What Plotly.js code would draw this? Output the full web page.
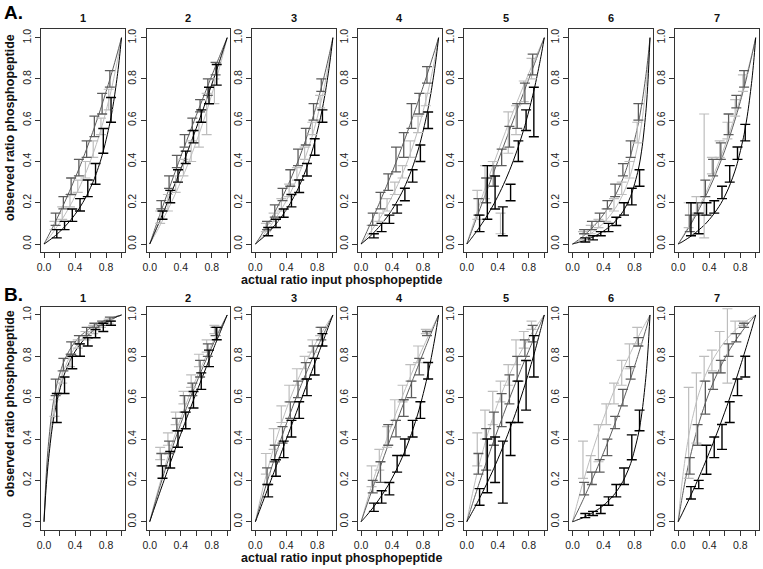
<!DOCTYPE html>
<html>
<head>
<meta charset="utf-8">
<script src="https://cdn.plot.ly/plotly-3.0.1.min.js"></script>
<style>
  html, body { margin: 0; padding: 0; background: #fff; }
  #chart { width: 763px; height: 569px; }
</style>
</head>
<body>
<div id="chart"></div>
<script>
// panel labels
var rowNames = ['A.', 'B.'];
var panelNames = ['1', '2', '3', '4', '5', '6', '7'];

// x grid for the fitted curves, x positions of the replicate error bars
var curveX = [0, 0.025, 0.05, 0.1, 0.15, 0.25, 0.35, 0.45, 0.55, 0.65, 0.75, 0.85, 0.9, 0.95, 0.975, 1];
var barX = [0.15, 0.25, 0.35, 0.45, 0.55, 0.65, 0.75, 0.85];

// fitted curves, one row per panel (A1..A7, B1..B7)
var blackCurve = [
    [0, .006, .013, .027, .042, .077, .119, .170, .234, .317, .429, .586, .692, .826, .907, 1],
    [0, .021, .043, .086, .130, .221, .314, .410, .510, .612, .718, .828, .884, .942, .971, 1],
    [0, .008, .016, .032, .050, .091, .139, .197, .268, .358, .474, .630, .730, .851, .921, 1],
    [0, .008, .016, .032, .050, .091, .139, .197, .268, .358, .474, .630, .730, .851, .921, 1],
    [0, .011, .023, .048, .074, .130, .195, .269, .355, .455, .574, .718, .802, .895, .946, 1],
    [0, .003, .005, .011, .017, .032, .051, .076, .109, .157, .231, .362, .474, .655, .796, 1],
    [0, .005, .010, .022, .034, .063, .097, .141, .196, .271, .375, .531, .643, .792, .886, 1],
    [0, .152, .269, .438, .553, .700, .790, .851, .895, .929, .955, .975, .984, .993, .996, 1],
    [0, .027, .055, .109, .163, .268, .372, .474, .574, .671, .767, .862, .908, .954, .977, 1],
    [0, .025, .05, .1, .15, .25, .35, .45, .55, .65, .75, .85, .9, .95, .975, 1],
    [0, .010, .021, .043, .066, .118, .177, .247, .328, .426, .545, .694, .783, .884, .940, 1],
    [0, .016, .033, .067, .103, .178, .259, .347, .443, .547, .661, .787, .854, .925, .962, 1],
    [0, .003, .007, .014, .022, .042, .065, .096, .137, .195, .281, .424, .539, .712, .835, 1],
    [0, .019, .038, .077, .117, .200, .288, .380, .478, .582, .692, .810, .871, .934, .967, 1]
];
var darkCurve = [
    [0, .018, .036, .072, .110, .189, .274, .364, .461, .565, .677, .799, .863, .930, .965, 1],
    [0, .027, .055, .109, .163, .268, .372, .474, .574, .671, .767, .862, .908, .954, .977, 1],
    [0, .014, .028, .058, .088, .155, .229, .310, .402, .505, .623, .757, .832, .913, .955, 1],
    [0, .020, .040, .082, .124, .211, .301, .396, .494, .598, .706, .819, .878, .938, .969, 1],
    [0, .025, .05, .1, .15, .25, .35, .45, .55, .65, .75, .85, .9, .95, .975, 1],
    [0, .006, .013, .027, .042, .077, .119, .170, .234, .317, .429, .586, .692, .826, .907, 1],
    [0, .014, .028, .058, .088, .155, .229, .310, .402, .505, .623, .757, .832, .913, .955, 1],
    [0, .204, .345, .526, .638, .769, .843, .891, .924, .949, .968, .983, .989, .995, .997, 1],
    [0, .033, .066, .130, .192, .310, .421, .525, .623, .715, .802, .884, .924, .962, .981, 1],
    [0, .033, .066, .130, .192, .310, .421, .525, .623, .715, .802, .884, .924, .962, .981, 1],
    [0, .027, .055, .109, .163, .268, .372, .474, .574, .671, .767, .862, .908, .954, .977, 1],
    [0, .030, .059, .118, .175, .286, .393, .495, .595, .690, .783, .872, .915, .958, .979, 1],
    [0, .019, .038, .077, .117, .200, .288, .380, .478, .582, .692, .810, .871, .934, .967, 1],
    [0, .060, .116, .217, .306, .455, .574, .672, .753, .823, .882, .934, .957, .979, .990, 1]
];
var lightCurve = [
    [0, .011, .023, .048, .074, .130, .195, .269, .355, .455, .574, .718, .802, .895, .946, 1],
    [0, .016, .033, .067, .103, .178, .259, .347, .443, .547, .661, .787, .854, .925, .962, 1],
    [0, .010, .021, .043, .066, .118, .177, .247, .328, .426, .545, .694, .783, .884, .940, 1],
    [0, .011, .023, .048, .074, .130, .195, .269, .355, .455, .574, .718, .802, .895, .946, 1],
    [0, .030, .059, .118, .175, .286, .393, .495, .595, .690, .783, .872, .915, .958, .979, 1],
    [0, .004, .009, .019, .029, .054, .084, .122, .172, .240, .338, .491, .605, .764, .869, 1],
    [0, .015, .031, .063, .096, .167, .244, .329, .423, .527, .643, .773, .844, .919, .959, 1],
    [0, .170, .296, .471, .585, .727, .812, .868, .907, .937, .960, .978, .986, .994, .997, 1],
    [0, .037, .073, .143, .209, .333, .447, .551, .647, .736, .818, .895, .931, .966, .983, 1],
    [0, .044, .087, .167, .241, .375, .492, .596, .688, .770, .844, .911, .942, .972, .986, 1],
    [0, .033, .066, .130, .192, .310, .421, .525, .623, .715, .802, .884, .924, .962, .981, 1],
    [0, .049, .095, .182, .261, .400, .519, .621, .710, .788, .857, .919, .947, .974, .987, 1],
    [0, .037, .073, .143, .209, .333, .447, .551, .647, .736, .818, .895, .931, .966, .983, 1],
    [0, .103, .192, .333, .443, .600, .708, .786, .846, .893, .931, .962, .976, .988, .994, 1]
];

// error bars: centre and half-length, one row per panel
var blackMid = [
    [.05, .09, .14, .19, .27, .34, .50, .65], [.14, .23, .33, .42, .52, .62, .72, .82],
    [.06, .10, .15, .21, .28, .36, .47, .62], [.04, .08, .12, .17, .24, .33, .44, .60],
    [.10, .25, .25, .11, .25, .45, .60, .64], [.02, .03, .05, .08, .11, .17, .23, .32],
    [.12, .10, .17, .18, .25, .34, .44, .54], [.55, .66, .77, .83, .87, .91, .94, .96],
    [.24, .30, .40, .49, .59, .68, .79, .91], [.15, .26, .35, .45, .54, .65, .75, .88],
    [.07, .12, .16, .28, .36, .45, .54, .73], [.12, .27, .30, .24, .40, .58, .66, .80],
    [.03, .04, .06, .10, .15, .22, .36, .49], [.14, .18, .30, .36, .41, .53, .65, .75]
];
var blackErr = [
    [.02, .02, .03, .03, .04, .05, .06, .06], [.02, .03, .03, .03, .03, .03, .04, .05],
    [.02, .02, .02, .03, .03, .03, .04, .03], [.01, .02, .02, .02, .03, .03, .04, .04],
    [.04, .13, .08, .07, .04, .05, .05, .12], [.01, .01, .01, .02, .02, .03, .04, .04],
    [.08, .05, .03, .03, .03, .04, .03, .04], [.07, .04, .03, .03, .02, .02, .02, .01],
    [.03, .04, .04, .04, .04, .04, .04, .03], [.03, .04, .04, .04, .04, .04, .04, .03],
    [.02, .03, .03, .04, .04, .04, .04, .04], [.04, .13, .11, .15, .08, .10, .12, .10],
    [.01, .01, .02, .02, .03, .04, .06, .05], [.03, .02, .07, .05, .06, .05, .04, .05]
];
var darkMid = [
    [.12, .20, .28, .37, .46, .57, .68, .80], [.19, .30, .40, .50, .58, .67, .76, .85],
    [.09, .16, .24, .32, .42, .52, .64, .77], [.12, .21, .30, .41, .48, .62, .68, .82],
    [.18, .26, .33, .42, .52, .62, .73, .87], [.06, .09, .13, .19, .26, .36, .46, .64],
    [.10, .17, .27, .37, .45, .58, .69, .80], [.65, .76, .84, .88, .92, .95, .96, .98],
    [.30, .36, .47, .57, .64, .74, .83, .92], [.22, .33, .42, .54, .64, .73, .82, .91],
    [.17, .24, .42, .45, .55, .64, .75, .91], [.28, .35, .45, .54, .64, .74, .84, .91],
    [.16, .21, .27, .36, .48, .60, .72, .87], [.27, .42, .60, .68, .75, .83, .89, .95]
];
var darkErr = [
    [.03, .03, .04, .04, .04, .05, .05, .04], [.02, .03, .03, .03, .03, .03, .04, .03],
    [.02, .03, .03, .04, .04, .04, .04, .03], [.03, .04, .04, .06, .06, .06, .05, .04],
    [.04, .06, .05, .04, .05, .06, .05, .05], [.01, .02, .02, .02, .03, .03, .04, .04],
    [.04, .03, .04, .04, .04, .05, .03, .04], [.04, .03, .03, .02, .02, .01, .01, .01],
    [.03, .03, .03, .04, .03, .04, .03, .02], [.04, .04, .04, .04, .04, .04, .03, .03],
    [.03, .05, .05, .04, .04, .04, .04, .01], [.05, .10, .08, .08, .07, .06, .04, .04],
    [.03, .03, .03, .04, .03, .04, .03, .02], [.04, .05, .08, .04, .03, .03, .02, .01]
];
var lightMid = [
    [.09, .15, .21, .28, .36, .46, .57, .70], [.13, .20, .29, .37, .45, .53, .63, .74],
    [.08, .13, .19, .26, .34, .44, .56, .69], [.07, .13, .19, .27, .35, .46, .58, .70],
    [.19, .30, .34, .10, .54, .60, .74, .85], [.04, .07, .10, .14, .19, .27, .36, .54],
    [.14, .19, .33, .38, .46, .55, .66, .78], [.55, .70, .78, .86, .90, .93, .95, .97],
    [.33, .40, .50, .60, .68, .78, .85, .93], [.28, .40, .52, .62, .70, .77, .85, .92],
    [.22, .30, .41, .54, .62, .72, .81, .92], [.35, .47, .55, .63, .71, .82, .88, .95],
    [.30, .28, .38, .52, .62, .72, .80, .90], [.43, .55, .74, .78, .82, .85, .94, .96]
];
var lightErr = [
    [.02, .03, .03, .03, .04, .04, .04, .05], [.03, .04, .04, .04, .05, .06, .10, .06],
    [.02, .02, .03, .03, .03, .03, .03, .03], [.02, .02, .03, .03, .03, .04, .04, .03],
    [.07, .08, .06, .05, .10, .07, .05, .05], [.02, .02, .02, .03, .03, .03, .04, .05],
    [.06, .04, .30, .04, .04, .04, .04, .04], [.04, .03, .03, .02, .02, .02, .01, .01],
    [.03, .03, .03, .03, .03, .03, .03, .02], [.05, .05, .04, .04, .04, .03, .03, .02],
    [.05, .05, .05, .05, .04, .04, .04, .01], [.08, .07, .08, .05, .05, .06, .04, .02],
    [.09, .04, .09, .05, .05, .06, .06, .04], [.22, .17, .06, .05, .10, .18, .03, .01]
];

var W = 763, H = 569;
var FONT = 'Liberation Sans, Arial, sans-serif';
var rowTop = [29.4, 306.7], rowBot = [252.3, 530];
var colX0 = 44, colStep = 105.7, unitPx = 77.5;

function px(x) { return x / W; }
function py(y) { return 1 - y / H; }

var series = [
    { curve: lightCurve, mid: lightMid, err: lightErr, color: '#bdbdbd', dx: -0.015, w: 1.2 },
    { curve: darkCurve, mid: darkMid, err: darkErr, color: '#5c5c5c', dx: 0, w: 1.3 },
    { curve: blackCurve, mid: blackMid, err: blackErr, color: '#000000', dx: 0.015, w: 1.4 }
];

var data = [];
var layout = {
    width: W, height: H,
    margin: { l: 0, r: 0, t: 0, b: 0 },
    paper_bgcolor: '#fff', plot_bgcolor: '#fff',
    showlegend: false,
    font: { family: FONT, color: '#222' },
    annotations: []
};

for (var p = 0; p < 14; p++) {
    var row = Math.floor(p / 7), col = p % 7;
    var n = p + 1;
    var xa = n === 1 ? 'x' : 'x' + n, ya = n === 1 ? 'y' : 'y' + n;
    var left = colX0 + colStep * col;

    layout[n === 1 ? 'xaxis' : 'xaxis' + n] = {
        domain: [px(left - 0.04 * unitPx), px(left + 1.04 * unitPx)],
        range: [-0.04, 1.04], anchor: ya,
        tickvals: [0, 0.2, 0.4, 0.6, 0.8, 1],
        ticktext: ['0.0', '', '0.4', '', '0.8', ''],
        ticks: 'outside', ticklen: 5, tickcolor: '#333',
        showline: true, mirror: true, linecolor: '#333', linewidth: 1,
        showgrid: false, zeroline: false,
        tickfont: { family: FONT, size: 10.5, color: '#222' }
    };
    layout[n === 1 ? 'yaxis' : 'yaxis' + n] = {
        domain: [py(rowBot[row]), py(rowTop[row])],
        range: [-0.04, 1.04], anchor: xa,
        tickvals: [0, 0.2, 0.4, 0.6, 0.8, 1],
        ticktext: ['0.0', '0.2', '0.4', '0.6', '0.8', '1.0'],
        tickangle: -90,
        ticks: 'outside', ticklen: 5, tickcolor: '#333',
        showline: true, mirror: true, linecolor: '#333', linewidth: 1,
        showgrid: false, zeroline: false,
        tickfont: { family: FONT, size: 10.5, color: '#222' }
    };

    // panel number
    layout.annotations.push({
        xref: 'paper', yref: 'paper', x: px(left + unitPx / 2), y: py(row ? 298 : 18),
        text: '<b>' + panelNames[col] + '</b>', showarrow: false,
        xanchor: 'center', yanchor: 'middle', font: { family: FONT, size: 11, color: '#111' }
    });

    series.forEach(function (s) {
        data.push({
            x: curveX, y: s.curve[p], xaxis: xa, yaxis: ya,
            type: 'scatter', mode: 'lines',
            line: { color: s.color, width: 1, shape: 'spline', smoothing: 0.8 },
            hoverinfo: 'skip'
        });
    });
    series.forEach(function (s) {
        data.push({
            x: barX.map(function (v) { return v + s.dx; }), y: s.mid[p], xaxis: xa, yaxis: ya,
            type: 'scatter', mode: 'markers',
            marker: { size: 1, color: 'rgba(0,0,0,0)' },
            error_y: { type: 'data', array: s.err[p], visible: true, color: s.color, thickness: s.w, width: 5 },
            hoverinfo: 'skip'
        });
    });
}

// row letters and axis titles
for (var r = 0; r < 2; r++) {
    layout.annotations.push({
        xref: 'paper', yref: 'paper', x: px(2), y: py(r ? 294 : 13),
        text: '<b>' + rowNames[r] + '</b>', showarrow: false,
        xanchor: 'left', yanchor: 'middle', font: { family: FONT, size: 19, color: '#000' }
    });
    layout.annotations.push({
        xref: 'paper', yref: 'paper', x: px(341), y: py(r ? 558 : 280),
        text: '<b>actual ratio input phosphopeptide</b>', showarrow: false,
        xanchor: 'center', yanchor: 'middle', font: { family: FONT, size: 12.5, color: '#111' }
    });
    layout.annotations.push({
        xref: 'paper', yref: 'paper', x: px(10), y: py(r ? 404 : 128),
        text: '<b>observed ratio phosphopeptide</b>', showarrow: false, textangle: -90,
        xanchor: 'center', yanchor: 'middle', font: { family: FONT, size: 12.5, color: '#111' }
    });
}

Plotly.newPlot('chart', data, layout, { staticPlot: true });
</script>
</body>
</html>
